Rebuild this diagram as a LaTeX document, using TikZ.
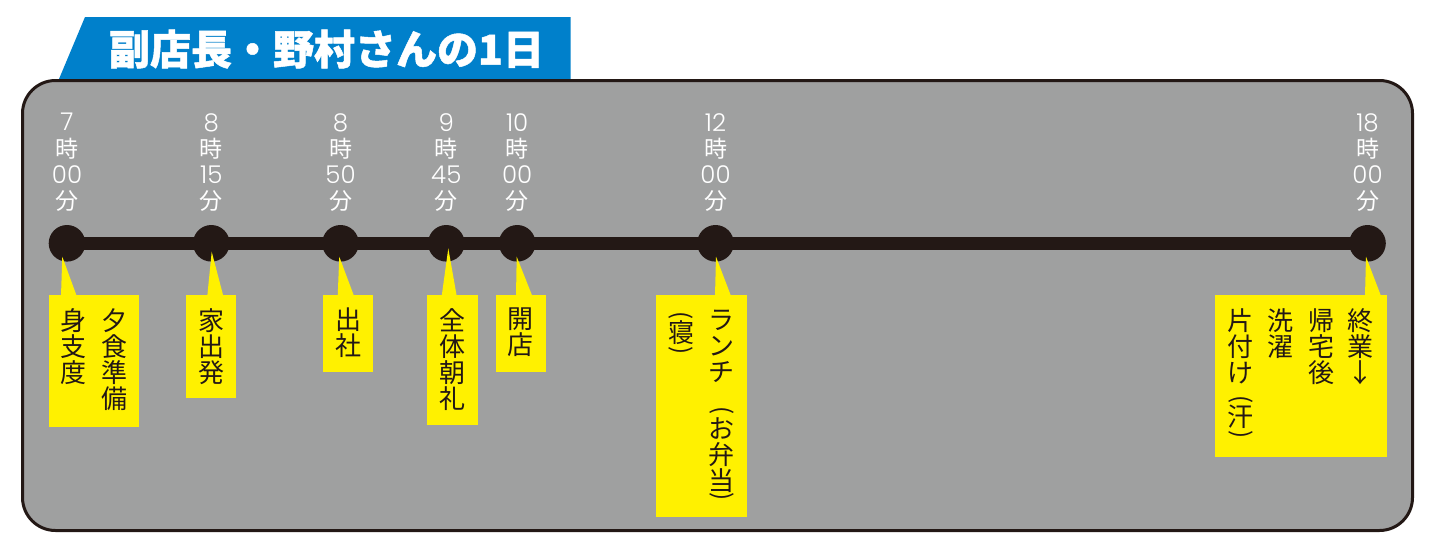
\documentclass[tikz,border=0pt]{standalone}
\usepackage{fontspec}
\newfontfamily\jp{Noto Sans CJK JP}
\newfontfamily\jph{Noto Sans CJK JP}[FakeBold=1.2]
\newfontfamily\dg{Poppins Light}
\definecolor{boxgray}{HTML}{9FA0A0}
\definecolor{yel}{HTML}{FFF100}
\definecolor{tabblue}{HTML}{0080CB}
\definecolor{ink}{HTML}{231815}
\newcommand\mycallout[8]{%
  \coordinate (#1tip) at (#5,#6);
  \fill[yel] (#2,295) rectangle (#3,#4);
  \fill[yel] (#1tip) -- (#7,296) -- (#8,296) -- cycle;}
\newcommand\tlab[2]{{\dg\fontsize{24.5}{26.3}\selectfont #1}\\時\\{\dg\fontsize{24.5}{26.3}\selectfont #2}\\分}
\begin{document}
\begin{tikzpicture}[x=1pt,y=-1pt,
  tl/.style={text=white, font=\jp\fontsize{23}{26.3}\selectfont, align=center, inner sep=0pt, anchor=north},
  col/.style={text=ink, font=\jp\fontsize{26}{26}\selectfont, align=center, inner sep=0pt, anchor=north},
  ch/.style={text=ink, font=\jp\fontsize{26}{26}\selectfont, inner sep=0pt},
  vpar/.style={text=ink, font=\jp\fontsize{24}{24}\selectfont, inner sep=0pt, rotate=-90},
  dotnode/.style={circle, fill=ink, minimum size=36.6pt, inner sep=0pt}]
\useasboundingbox (0,0) rectangle (1434,549);
% title tab
\fill[tabblue] (59,79) -- (85,17) -- (570.7,17) -- (570.7,79) -- cycle;
\node[text=white, font=\jph\bfseries\fontsize{41}{41}\selectfont, inner sep=0pt] (title) at (326.5,49) {副店長・野村さんの1日};
% main panel
\draw[line width=3pt, draw=ink, fill=boxgray, rounded corners=33pt] (22.5,80.5) rectangle (1412.5,530.5);
% time labels
\node[tl] (t1) at (67,113) {\tlab{7}{00}};
\node[tl] (t2) at (211.3,113) {\tlab{8}{15}};
\node[tl] (t3) at (340.5,113) {\tlab{8}{50}};
\node[tl] (t4) at (446.3,113) {\tlab{9}{45}};
\node[tl] (t5) at (517.2,113) {\tlab{10}{00}};
\node[tl] (t6) at (715.5,113) {\tlab{12}{00}};
\node[tl] (t7) at (1367.5,113) {\tlab{18}{00}};
% timeline
\node[dotnode] (d1) at (67,243.3) {};
\node[dotnode] (d2) at (211.3,243.3) {};
\node[dotnode] (d3) at (340.5,243.3) {};
\node[dotnode] (d4) at (446.3,243.3) {};
\node[dotnode] (d5) at (517.2,243.3) {};
\node[dotnode] (d6) at (715.5,243.3) {};
\node[dotnode] (d7) at (1367.5,243.3) {};
\draw[line width=12.5pt, draw=ink] (d1.center) -- (d7.center);
% callouts
\mycallout{a}{48.7}{139.3}{426.7}{62.3}{256.7}{61}{76.7}
\mycallout{b}{186}{236}{398.3}{211.7}{251.7}{207.3}{223.3}
\mycallout{c}{322.7}{373.3}{371.7}{339.3}{256.7}{337.7}{354}
\mycallout{d}{427.3}{477.7}{425}{448.3}{248.3}{441.7}{456.7}
\mycallout{e}{496}{546}{371.7}{516.7}{256.7}{516}{532.3}
\mycallout{f}{656}{746.7}{517.3}{716}{256.7}{715}{731}
\mycallout{g}{1215}{1386.7}{456.7}{1366}{256.7}{1365}{1381}
% callout texts
\node[col] (a1) at (114,308) {夕\\食\\準\\備};
\node[col] (a2) at (73,308) {身\\支\\度};
\node[col] (b1) at (211.7,308) {家\\出\\発};
\node[col] (c1) at (348,308) {出\\社};
\node[col] (d1t) at (452,308) {全\\体\\朝\\礼};
\node[col] (e1) at (520.7,308) {開\\店};
\node[col] (f1) at (721.7,310) {ラ\\ン\\チ};
\node[vpar] (f1p) at (721.7,410.5) {(};
\node[col] (f1b) at (721.7,418) {お\\弁\\当};
\node[vpar] (f1q) at (721.7,496.5) {)};
\node[vpar] (f2p) at (681,315.5) {(};
\node[ch] (f2) at (681,333) {寝};
\node[vpar] (f2q) at (681,351) {)};
\node[col] (g1) at (1360.7,308) {終\\業\\↓};
\node[col] (g2) at (1321,308) {帰\\宅\\後};
\node[col] (g3) at (1280.7,308) {洗\\濯};
\node[col] (g4) at (1240.7,308) {片\\付\\け};
\node[vpar] (g4p) at (1240.7,400) {(};
\node[ch] (g4b) at (1240.7,416.5) {汗};
\node[vpar] (g4q) at (1240.7,435) {)};
\end{tikzpicture}
\end{document}
